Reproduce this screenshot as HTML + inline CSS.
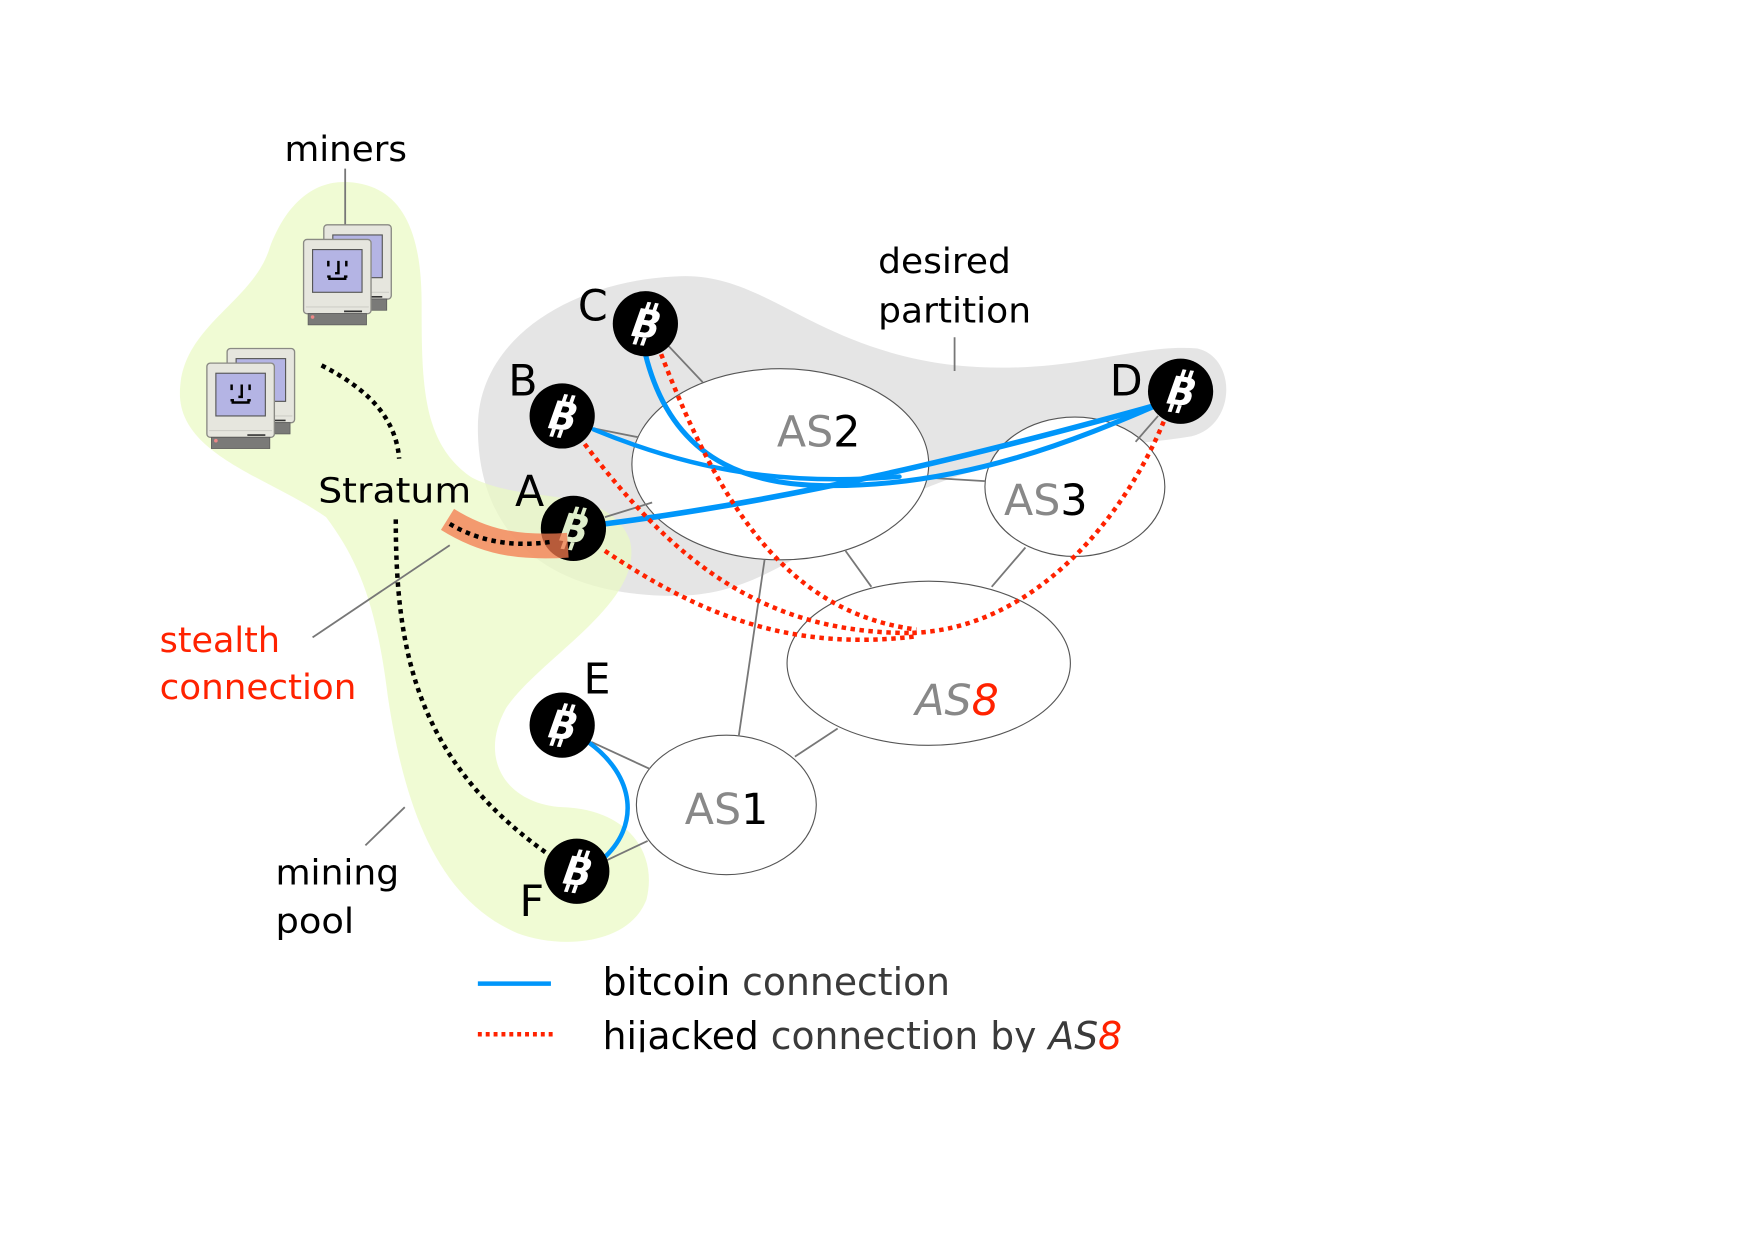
<!DOCTYPE html>
<html><head><meta charset="utf-8"><style>
html,body{margin:0;padding:0;background:#fff;}
svg{display:block;}
text{font-family:"DejaVu Sans","Liberation Sans",sans-serif;}
</style></head><body>
<svg width="1754" height="1240" viewBox="0 0 1560 1103" preserveAspectRatio="none" xmlns="http://www.w3.org/2000/svg">
<defs>
<g id="btc">
<circle r="29" fill="#000"/>
<g transform="skewX(-12) rotate(8)">
<text x="1" y="12" font-size="34" font-weight="bold" text-anchor="middle" fill="currentColor" font-family="DejaVu Sans, sans-serif">B</text>
<rect x="-5" y="-19" width="3.5" height="7" fill="currentColor"/>
<rect x="2" y="-19" width="3.5" height="7" fill="currentColor"/>
<rect x="-5" y="12" width="3.5" height="7" fill="currentColor"/>
<rect x="2" y="12" width="3.5" height="7" fill="currentColor"/>
</g>
</g>
<g id="mac1">
<rect x="0" y="0" width="60" height="66" rx="3" fill="#e6e6de" stroke="#8a8a84" stroke-width="1.2"/>
<rect x="8" y="9" width="44" height="38" fill="#b4b4e4" stroke="#555" stroke-width="1"/>
<rect x="4" y="66" width="52" height="10" fill="#7a7a78" stroke="#555" stroke-width="0.6"/>
<line x1="36" y1="64" x2="52" y2="64" stroke="#333" stroke-width="1.5"/>
<line x1="2" y1="60" x2="58" y2="60" stroke="#cfcfc8" stroke-width="1"/>
<circle cx="8" cy="69" r="1.6" fill="#e88"/>
</g>
<g id="mac">
<use href="#mac1" x="18" y="-13"/>
<use href="#mac1"/>
<g stroke="#000" stroke-width="2.2" fill="none">
<line x1="22" y1="19" x2="22" y2="24"/><line x1="38" y1="19" x2="38" y2="24"/>
<path d="M31 19 V30 H28"/>
<path d="M21 33 H23 V35 H37 V33 H39"/>
</g>
</g>
</defs>

<path d="M600,246 C680,240 720,310 850,325 C950,335 1010,305 1065,310 C1100,318 1100,378 1060,388 C990,400 910,395 810,440 C720,480 680,530 600,530 C480,530 425,470 425,380 C425,300 510,250 600,246 Z" fill="#e5e5e5"/>
<path d="M310,162 C360,165 375,210 375,270 C375,340 375,395 420,425 C470,450 540,430 560,480 C575,535 480,585 450,630 C425,675 450,715 500,718 C560,720 585,760 575,800 C560,840 500,845 460,830 C390,800 360,720 345,620 C335,540 320,500 290,460 C240,425 160,405 160,350 C160,290 225,270 240,220 C255,180 280,160 310,162 Z" fill="#eaf9c4" fill-opacity="0.72"/>

<g fill="#fff" stroke="#555" stroke-width="1">
<ellipse cx="694" cy="413" rx="132" ry="85"/>
<ellipse cx="956" cy="433" rx="80" ry="62"/>
<ellipse cx="826" cy="590" rx="126" ry="73"/>
<ellipse cx="646" cy="716" rx="80" ry="62"/>
</g>

<g stroke="#777" stroke-width="1.6">
<line x1="592" y1="305" x2="625" y2="340"/>
<line x1="528" y1="381" x2="568" y2="389"/>
<line x1="538" y1="460" x2="580" y2="447"/>
<line x1="826" y1="425" x2="876" y2="428"/>
<line x1="752" y1="490" x2="775" y2="522"/>
<line x1="912" y1="487" x2="882" y2="522"/>
<line x1="680" y1="498" x2="657" y2="655"/>
<line x1="745" y1="648" x2="707" y2="673"/>
<line x1="526" y1="660" x2="578" y2="684"/>
<line x1="540" y1="765" x2="576" y2="748"/>
<line x1="1030" y1="370" x2="1010" y2="393"/>
<line x1="307" y1="150" x2="307" y2="202"/>
<line x1="849" y1="300" x2="849" y2="330"/>
<line x1="278" y1="567" x2="400" y2="485"/>
<line x1="325" y1="752" x2="360" y2="718"/>
</g>

<g stroke="#0096fa" fill="none" stroke-width="4" stroke-linecap="round">
<path d="M574,315 C600,420 680,432 740,432 C860,432 960,390 1030,360" stroke-width="4.5"/>
<path d="M528,382 C620,420 700,432 800,424"/>
<path d="M538,466 C700,445 850,410 1030,360" stroke-width="5"/>
<path d="M523,660 C565,690 570,735 535,765"/>
</g>

<g stroke="#ff2200" fill="none" stroke-width="4" stroke-dasharray="4 4">
<path d="M588,315 C640,450 700,545 815,560"/>
<path d="M520,395 C600,500 680,565 815,563"/>
<path d="M538,490 C620,545 700,580 815,566"/>
<path d="M1035,375 C1000,460 920,560 810,563"/>
</g>

<g stroke="#000" fill="none" stroke-width="4" stroke-dasharray="4 4">
<path d="M286,325 C325,345 352,370 355,408"/>
<path d="M352,462 C352,580 370,680 495,765"/>
</g>

<g color="#fff">
<use href="#btc" x="574" y="288"/>
<use href="#btc" x="500" y="370"/>
<use href="#btc" x="1050" y="348"/>
<use href="#btc" x="500" y="645"/>
<use href="#btc" x="513" y="775"/>
</g>
<g color="#dfeecb"><use href="#btc" x="510" y="470"/></g>

<path d="M398,462 C430,482 460,488 505,485" stroke="#f47a4e" stroke-opacity="0.75" stroke-width="22" fill="none"/>
<path d="M400,466 C430,484 462,486 490,482" stroke="#000" stroke-width="4" stroke-dasharray="4 4" fill="none"/>

<use href="#mac" x="270" y="213"/>
<use href="#mac" x="184" y="323"/>

<g font-size="31" fill="#000">
<text x="253" y="143" textLength="109" lengthAdjust="spacingAndGlyphs">miners</text>
<text x="781" y="243" textLength="118" lengthAdjust="spacingAndGlyphs">desired</text>
<text x="781" y="287" textLength="136" lengthAdjust="spacingAndGlyphs">partition</text>
<text x="283" y="447" textLength="136" lengthAdjust="spacingAndGlyphs">Stratum</text>
<text x="245" y="787" textLength="110" lengthAdjust="spacingAndGlyphs">mining</text>
<text x="245" y="830" textLength="70" lengthAdjust="spacingAndGlyphs">pool</text>
</g>
<g font-size="31" fill="#ff2200">
<text x="142" y="580" textLength="107" lengthAdjust="spacingAndGlyphs">stealth</text>
<text x="142" y="622" textLength="175" lengthAdjust="spacingAndGlyphs">connection</text>
</g>
<g font-size="38" fill="#000">
<text x="514" y="285">C</text>
<text x="452" y="352">B</text>
<text x="458" y="450">A</text>
<text x="987" y="352">D</text>
<text x="519" y="617">E</text>
<text x="462" y="815">F</text>
</g>
<g font-size="38">
<text x="691" y="397"><tspan fill="#888">AS</tspan><tspan fill="#000">2</tspan></text>
<text x="893" y="458"><tspan fill="#888">AS</tspan><tspan fill="#000">3</tspan></text>
<text x="609" y="733"><tspan fill="#888">AS</tspan><tspan fill="#000">1</tspan></text>
<text x="814" y="636" font-style="italic"><tspan fill="#888">AS</tspan><tspan fill="#ff2200">8</tspan></text>
</g>

<line x1="425" y1="875" x2="490" y2="875" stroke="#0096fa" stroke-width="4"/>
<line x1="425" y1="920" x2="494" y2="920" stroke="#ff2200" stroke-width="4" stroke-dasharray="3.5 3.5"/>
<g font-size="34">
<text x="536" y="885" textLength="309" lengthAdjust="spacingAndGlyphs"><tspan fill="#000">bitcoin</tspan><tspan fill="#3a3a3a"> connection</tspan></text>
<text x="536" y="933" textLength="462" lengthAdjust="spacingAndGlyphs"><tspan fill="#000">hijacked</tspan><tspan fill="#3a3a3a"> connection by </tspan><tspan fill="#3a3a3a" font-style="italic">AS</tspan><tspan fill="#ff2200" font-style="italic">8</tspan></text>
</g>
<rect x="420" y="936" width="620" height="20" fill="#fff"/>
</svg>
</body></html>
